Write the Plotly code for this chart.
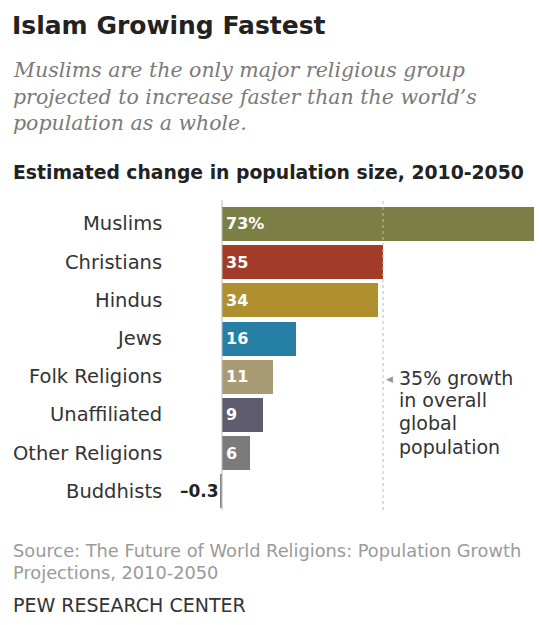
import plotly.graph_objects as go

categories = ["Muslims", "Christians", "Hindus", "Jews", "Folk Religions",
              "Unaffiliated", "Other Religions", "Buddhists"]
values = [73, 35, 34, 16, 11, 9, 6, -0.3]
value_labels = ["73%", "35", "34", "16", "11", "9", "6", "\u20130.3"]
colors = ["#7c7f45", "#a23c28", "#b08f2f", "#2680a5", "#a99b73",
          "#5e5c6e", "#7b7b7b", "#888888"]
global_growth = 35

OFF = 8  # page body margin
W, H = 542 - OFF, 625 - 2 * OFF - 2
TOP, BOT = 200 - OFF, 510 - OFF  # plot area rows in figure pixels


def py(s):
    return (BOT - (s - OFF)) / (BOT - TOP)


def px(s):
    return (s - OFF) / W


SANS = "DejaVu Sans, Verdana, sans-serif"
SERIF = "DejaVu Serif, Georgia, serif"

ypos = list(range(len(categories)))

fig = go.Figure()
fig.add_trace(go.Bar(
    x=values, y=ypos, orientation="h",
    marker=dict(color=colors, line=dict(width=0)),
    width=0.89, hoverinfo="skip", showlegend=False,
))

ann = []
for i, c in enumerate(categories):
    ann.append(dict(x=px(164), xref="paper", y=i, yref="y", text=c,
                    xanchor="right", yanchor="middle", showarrow=False,
                    font=dict(family=SANS, size=19.5, color="#333333")))
for i, (v, lab) in enumerate(zip(values, value_labels)):
    if v > 0:
        ann.append(dict(x=0, xref="x", y=i, yref="y", text="<b>%s</b>" % lab,
                        xanchor="left", yanchor="middle", xshift=2, showarrow=False,
                        font=dict(family=SANS, size=16, color="#ffffff")))
    else:
        ann.append(dict(x=0, xref="x", y=i, yref="y", text="<b>%s</b>" % lab,
                        xanchor="right", yanchor="middle", xshift=-1, showarrow=False,
                        font=dict(family=SANS, size=17, color="#222222")))

ann.append(dict(x=global_growth, xref="x", y=py(379), yref="paper", text="\u25c0",
                xanchor="left", yanchor="middle", xshift=1, showarrow=False,
                font=dict(family=SANS, size=9, color="#999999")))
note_lines = ["%d%% growth" % global_growth, "in overall", "global", "population"]
note_y = [378, 400, 423, 447]
for t, yy in zip(note_lines, note_y):
    ann.append(dict(x=global_growth, xref="x", y=py(yy), yref="paper", text=t,
                    xanchor="left", yanchor="middle", xshift=14, showarrow=False,
                    font=dict(family=SANS, size=19, color="#333333")))

ann.append(dict(x=px(10), xref="paper", y=py(25), yref="paper",
                text="<b>Islam Growing Fastest</b>", xanchor="left", yanchor="middle",
                showarrow=False, font=dict(family=SANS, size=25, color="#222222")))
sub = ["Muslims are the only major religious group",
       "projected to increase faster than the world\u2019s",
       "population as a whole."]
for t, yy in zip(sub, [70, 97, 123]):
    ann.append(dict(x=px(11), xref="paper", y=py(yy), yref="paper",
                    text="<i>%s</i>" % t, xanchor="left", yanchor="middle",
                    showarrow=False, font=dict(family=SERIF, size=20.5, color="#7a7a7a")))
ann.append(dict(x=px(11), xref="paper", y=py(172), yref="paper",
                text="<b>Estimated change in population size, 2010-2050</b>",
                xanchor="left", yanchor="middle", showarrow=False,
                font=dict(family=SANS, size=18.8, color="#222222")))
src = ["Source: The Future of World Religions: Population Growth",
       "Projections, 2010-2050"]
for t, yy in zip(src, [550, 572]):
    ann.append(dict(x=px(11), xref="paper", y=py(yy), yref="paper", text=t,
                    xanchor="left", yanchor="middle", showarrow=False,
                    font=dict(family=SANS, size=17.8, color="#9a9a9a")))
ann.append(dict(x=px(11), xref="paper", y=py(605), yref="paper",
                text="PEW RESEARCH CENTER", xanchor="left", yanchor="middle",
                showarrow=False, font=dict(family=SANS, size=19, color="#333333")))

scale = 4.6  # px per unit
x0 = 222 - OFF
fig.update_layout(
    width=W, height=H,
    margin=dict(l=0, r=0, t=TOP, b=H - BOT, pad=0),
    paper_bgcolor="white", plot_bgcolor="white",
    xaxis=dict(range=[-x0 / scale, (W - x0) / scale], showgrid=False,
               zeroline=False, showticklabels=False, ticks="", fixedrange=True),
    yaxis=dict(range=[7.487, -0.628], showgrid=False, zeroline=False,
               showticklabels=False, ticks="", fixedrange=True),
    annotations=ann,
    shapes=[
        dict(type="line", xref="x", yref="paper", x0=0, x1=0, y0=0, y1=1,
             line=dict(color="#bbbbbb", width=1), layer="above"),
        dict(type="line", xref="x", yref="paper", x0=global_growth, x1=global_growth,
             y0=0, y1=1, line=dict(color="#bbbbbb", width=1, dash="dot"), layer="above"),
    ],
    bargap=0,
)

fig.write_html("out.html")
